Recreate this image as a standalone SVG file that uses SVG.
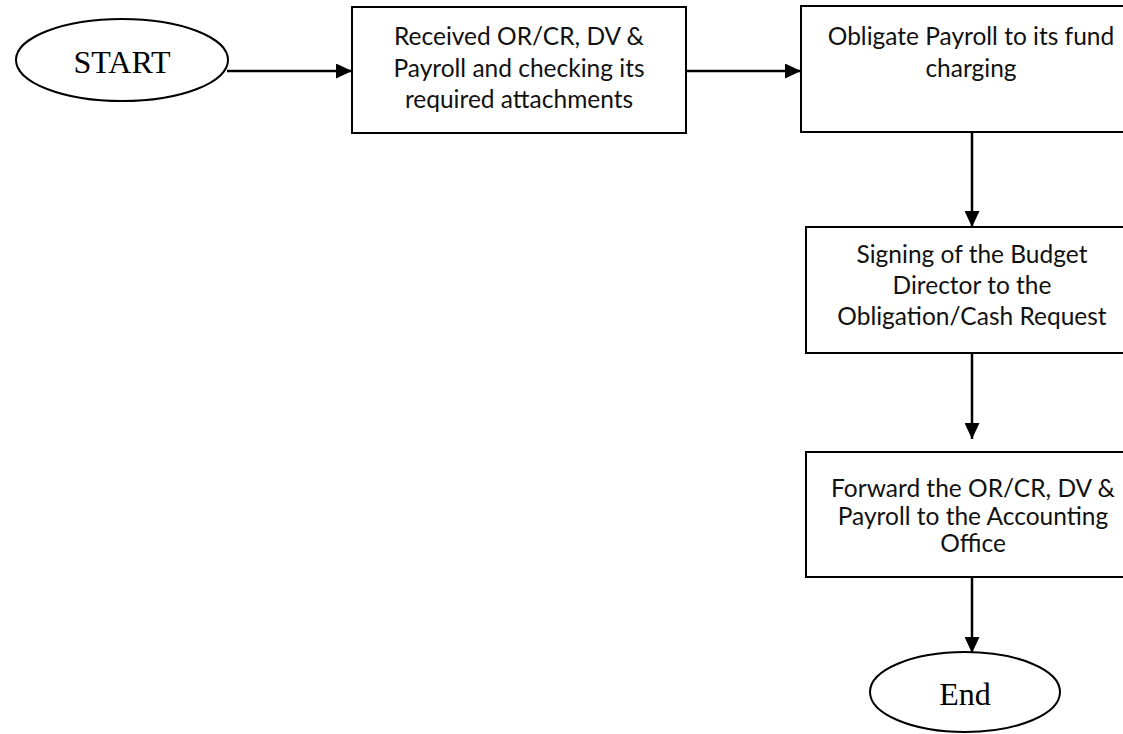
<svg xmlns="http://www.w3.org/2000/svg" width="1123" height="734" viewBox="0 0 1123 734">
<defs>
<style>
.box{fill:#fff;stroke:#000;stroke-width:2}
.term{fill:#fff;stroke:#000;stroke-width:2}
.lbl{font-family:Lato,"Open Sans","Liberation Sans",sans-serif;font-size:24.5px;fill:#111;text-anchor:middle}
.tlbl{font-family:"Liberation Serif","Times New Roman",serif;font-size:32px;fill:#000;text-anchor:middle}
.conn{stroke:#000;stroke-width:2.5;fill:none;marker-end:url(#ah)}
</style>
<marker id="ah" viewBox="0 0 16 15" refX="16" refY="7.5" markerWidth="16" markerHeight="15" markerUnits="userSpaceOnUse" orient="auto">
<path d="M0,0 L16,7.5 L0,15 Z" fill="#000"/>
</marker>
</defs>
<rect width="1123" height="734" fill="#fff"/>
<g id="connectors">
<line class="conn" x1="227" y1="71" x2="352" y2="71"/>
<line class="conn" x1="686" y1="71" x2="801" y2="71"/>
<line class="conn" x1="972" y1="133" x2="972" y2="227"/>
<line class="conn" x1="972" y1="353" x2="972" y2="439"/>
<line class="conn" x1="972" y1="577" x2="972" y2="653"/>
</g>
<g id="start">
<ellipse class="term" cx="122" cy="60" rx="106" ry="41"/>
<text class="tlbl" x="122" y="73">START</text>
</g>
<g id="received">
<rect class="box" x="352" y="7" width="334" height="126"/>
<text class="lbl" x="519" y="45">Received OR/CR, DV &amp;</text>
<text class="lbl" x="519" y="77">Payroll and checking its</text>
<text class="lbl" x="519" y="108">required attachments</text>
</g>
<g id="obligate">
<rect class="box" x="801" y="6" width="340" height="126"/>
<text class="lbl" x="971" y="45">Obligate Payroll to its fund</text>
<text class="lbl" x="971" y="77">charging</text>
</g>
<g id="signing">
<rect class="box" x="806" y="227" width="334" height="126"/>
<text class="lbl" x="972" y="263">Signing of the Budget</text>
<text class="lbl" x="972" y="294">Director to the</text>
<text class="lbl" x="972" y="325">Obligation/Cash Request</text>
</g>
<g id="forward">
<rect class="box" x="806" y="452" width="334" height="125"/>
<text class="lbl" x="973" y="497">Forward the OR/CR, DV &amp;</text>
<text class="lbl" x="973" y="525">Payroll to the Accounting</text>
<text class="lbl" x="973" y="552">Office</text>
</g>
<g id="end">
<ellipse class="term" cx="965" cy="692" rx="95" ry="40"/>
<text class="tlbl" x="965" y="705">End</text>
</g>
</svg>
